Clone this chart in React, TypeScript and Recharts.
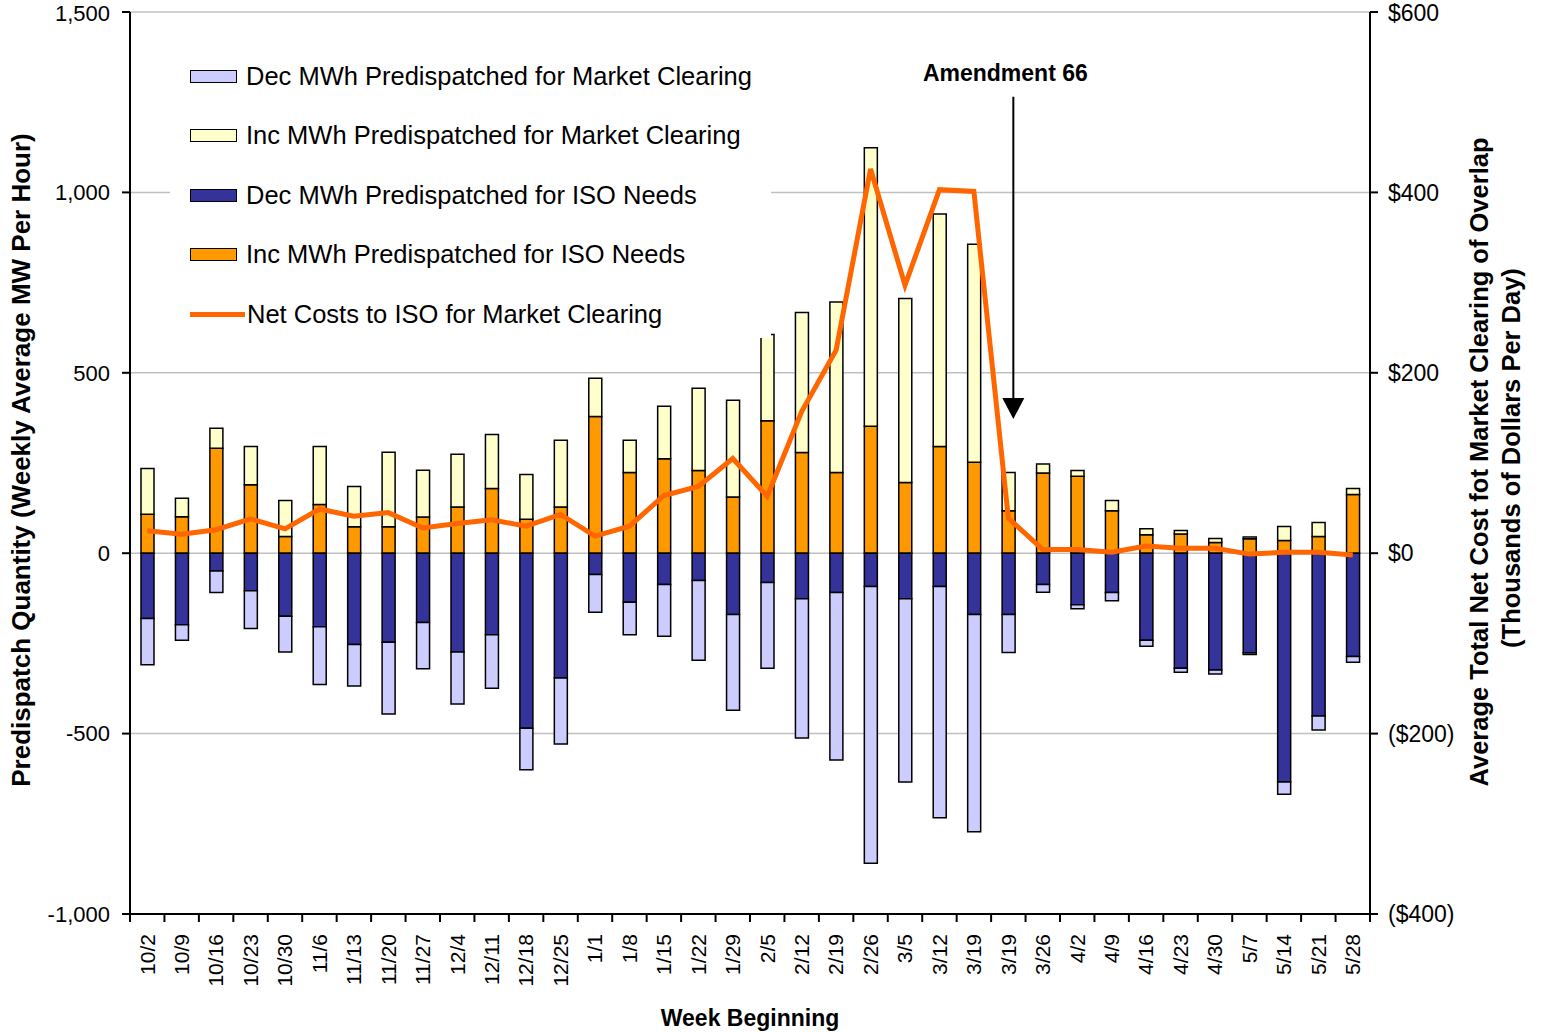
import React from "react";
import {
  ComposedChart,
  Bar,
  Line,
  XAxis,
  YAxis,
  CartesianGrid,
  ReferenceLine,
  Customized,
} from "recharts";

// week labels (3/19 appears twice in the source chart)
const weeks = [
  "10/2", "10/9", "10/16", "10/23", "10/30", "11/6", "11/13", "11/20", "11/27",
  "12/4", "12/11", "12/18", "12/25", "1/1", "1/8", "1/15", "1/22", "1/29",
  "2/5", "2/12", "2/19", "2/26", "3/5", "3/12", "3/19", "3/19", "3/26",
  "4/2", "4/9", "4/16", "4/23", "4/30", "5/7", "5/14", "5/21", "5/28",
];

// MW per hour, weekly average
const incIso = [
  108, 101, 291, 190, 46, 135, 73, 73, 100, 128, 179, 94, 128, 379, 224, 262, 229, 156,
  367, 279, 224, 352, 196, 296, 252, 118, 222, 213, 118, 51, 53, 30, 40, 35, 46, 163,
];
const incMkt = [
  127, 51, 55, 106, 100, 161, 112, 207, 130, 146, 150, 124, 185, 106, 89, 145, 228, 268,
  239, 388, 472, 772, 510, 644, 604, 106, 25, 16, 28, 17, 10, 11, 5, 39, 39, 16,
];
const decIso = [
  -181, -198, -49, -104, -175, -204, -253, -247, -192, -274, -226, -485, -346, -59, -136,
  -87, -76, -170, -81, -126, -109, -92, -126, -92, -170, -170, -87, -143, -109, -241,
  -319, -324, -276, -634, -451, -286,
];
const decMkt = [
  -128, -43, -60, -105, -99, -160, -115, -199, -128, -144, -148, -115, -183, -105, -90,
  -143, -221, -265, -238, -386, -464, -767, -508, -641, -602, -105, -21, -11, -23, -17,
  -11, -11, -5, -34, -39, -16,
];
// thousands of dollars per day
const netCost = [
  25, 21, 26, 38, 27, 49, 41, 45, 28, 33, 37, 30, 43, 19, 30, 64, 74, 105,
  63, 157, 225, 426, 297, 403, 401, 39, 4, 4, 1, 8, 5.5, 5.5, -1, 1, 1, -2,
];

const leftTicks = [-1000, -500, 0, 500, 1000, 1500];
const rightTicks = [-400, -200, 0, 200, 400, 600];

const FONT = "'Liberation Sans', Arial, Helvetica, sans-serif";
const W = 1544;
const H = 1032;
const PLOT_LEFT = 130;
const PLOT_RIGHT = 1370;

const COLORS = {
  decMkt: "#CCCCFF",
  incMkt: "#FFFFCC",
  decIso: "#333399",
  incIso: "#FF9900",
  cost: "#FF6600",
};

const legendItems = [
  { name: "Dec MWh Predispatched for Market Clearing", color: COLORS.decMkt, kind: "bar" },
  { name: "Inc MWh Predispatched for Market Clearing", color: COLORS.incMkt, kind: "bar" },
  { name: "Dec MWh Predispatched for ISO Needs", color: COLORS.decIso, kind: "bar" },
  { name: "Inc MWh Predispatched for ISO Needs", color: COLORS.incIso, kind: "bar" },
  { name: "Net Costs to ISO for Market Clearing", color: COLORS.cost, kind: "line" },
];

const chartData = weeks.map((week, i) => ({
  id: `w${i}`,
  week,
  incIso: incIso[i],
  incMkt: incMkt[i],
  decIso: decIso[i],
  decMkt: decMkt[i],
  netCost: netCost[i],
}));

const fmtLeft = (v: number) => v.toLocaleString("en-US");
const fmtRight = (v: number) => (v < 0 ? `($${-v})` : `$${v}`);

const WeekTick = (props: any) => {
  const { x, y, payload } = props;
  const i = Number(String(payload.value).slice(1));
  const half = (PLOT_RIGHT - PLOT_LEFT) / weeks.length / 2;
  return (
    <g>
      <line x1={x - half} x2={x - half} y1={y - 8} y2={y} stroke="#000" strokeWidth={2} />
      {i === weeks.length - 1 && (
        <line x1={x + half} x2={x + half} y1={y - 8} y2={y} stroke="#000" strokeWidth={2} />
      )}
      <text
        transform={`translate(${x},${y + 12}) rotate(-90)`}
        textAnchor="end"
        dy="0.35em"
        fontSize={21}
        fontFamily={FONT}
        fill="#000"
      >
        {weeks[i]}
      </text>
    </g>
  );
};

const AmendmentArrow = (props: any) => {
  const { x1, y1, y2 } = props;
  const x = x1 + 5;
  return (
    <g>
      <text
        x={x - 8}
        y={y1 - 16}
        textAnchor="middle"
        fontSize={23}
        fontWeight="bold"
        fontFamily={FONT}
        fill="#000"
      >
        Amendment 66
      </text>
      <line x1={x} x2={x} y1={y1} y2={y2 - 20} stroke="#000" strokeWidth={2} />
      <polygon points={`${x - 11},${y2 - 21} ${x + 11},${y2 - 21} ${x},${y2}`} fill="#000" />
    </g>
  );
};

const AxisTitles = () => (
  <g fontFamily={FONT} fontWeight="bold" fill="#000">
    <text transform="translate(30,460) rotate(-90)" textAnchor="middle" fontSize={26}>
      Predispatch Quantity (Weekly Average MW Per Hour)
    </text>
    <text transform="translate(1488,462) rotate(-90)" textAnchor="middle" fontSize={25.5}>
      Average Total Net Cost fot Market Clearing of Overlap
    </text>
    <text transform="translate(1520,458) rotate(-90)" textAnchor="middle" fontSize={25.5}>
      (Thousands of Dollars Per Day)
    </text>
  </g>
);

function ChartLegend() {
  return (
    <div
      style={{
        position: "absolute",
        left: 170,
        top: 48,
        width: 601,
        height: 290,
        background: "#fff",
        fontFamily: FONT,
        fontSize: 25.5,
        color: "#000",
      }}
    >
      {legendItems.map((item, i) => (
        <div
          key={item.name}
          style={{
            position: "absolute",
            left: 20,
            top: 28 + i * 59.5 - 15,
            height: 30,
            display: "flex",
            alignItems: "center",
            whiteSpace: "nowrap",
          }}
        >
          {item.kind === "bar" ? (
            <div
              style={{
                width: 45,
                height: 11,
                background: item.color,
                border: "1.5px solid #000",
                marginRight: 9,
              }}
            />
          ) : (
            <div style={{ width: 55, height: 5, background: item.color, marginRight: 2 }} />
          )}
          <span>{item.name}</span>
        </div>
      ))}
    </div>
  );
}

export default function App() {
  return (
    <div style={{ position: "absolute", left: 0, top: 0, width: W, height: H, background: "#fff" }}>
      <ComposedChart
        width={W}
        height={H}
        data={chartData}
        stackOffset="sign"
        barSize={13}
        margin={{ top: 12, right: 84, bottom: 0, left: 0 }}
      >
        <CartesianGrid yAxisId="left" vertical={false} stroke="#c0c0c0" strokeWidth={1.5} />
        <XAxis
          dataKey="id"
          height={118}
          interval={0}
          tickLine={false}
          tickSize={8}
          tickMargin={0}
          tick={<WeekTick />}
          axisLine={{ stroke: "#000", strokeWidth: 2 }}
          label={{
            value: "Week Beginning",
            position: "insideBottom",
            offset: 6,
            fontSize: 23,
            fontWeight: "bold",
            fontFamily: FONT,
            fill: "#000",
          }}
        />
        <YAxis
          yAxisId="left"
          width={130}
          domain={[-1000, 1500]}
          ticks={leftTicks}
          tickFormatter={fmtLeft}
          tickSize={8}
          tickMargin={12}
          tick={{ fontSize: 22, fontFamily: FONT, fill: "#000" }}
          tickLine={{ stroke: "#000", strokeWidth: 2 }}
          axisLine={{ stroke: "#000", strokeWidth: 2 }}
          allowDataOverflow
        />
        <YAxis
          yAxisId="right"
          orientation="right"
          width={90}
          domain={[-400, 600]}
          ticks={rightTicks}
          tickFormatter={fmtRight}
          tickSize={8}
          tickMargin={10}
          tick={{ fontSize: 23, fontFamily: FONT, fill: "#000" }}
          tickLine={{ stroke: "#000", strokeWidth: 2 }}
          axisLine={{ stroke: "#000", strokeWidth: 2 }}
          allowDataOverflow
        />
        <Bar yAxisId="left" stackId="a" dataKey="incIso" fill={COLORS.incIso} stroke="#000" strokeWidth={1.5} isAnimationActive={false} />
        <Bar yAxisId="left" stackId="a" dataKey="incMkt" fill={COLORS.incMkt} stroke="#000" strokeWidth={1.5} isAnimationActive={false} />
        <Bar yAxisId="left" stackId="a" dataKey="decIso" fill={COLORS.decIso} stroke="#000" strokeWidth={1.5} isAnimationActive={false} />
        <Bar yAxisId="left" stackId="a" dataKey="decMkt" fill={COLORS.decMkt} stroke="#000" strokeWidth={1.5} isAnimationActive={false} />
        <Line
          yAxisId="right"
          type="linear"
          dataKey="netCost"
          stroke={COLORS.cost}
          strokeWidth={5}
          dot={false}
          activeDot={false}
          isAnimationActive={false}
        />
        <ReferenceLine
          yAxisId="left"
          segment={[
            { x: "w25", y: 1265 },
            { x: "w25", y: 372 },
          ]}
          shape={AmendmentArrow}
        />
        <Customized component={AxisTitles} />
      </ComposedChart>
      <ChartLegend />
    </div>
  );
}
